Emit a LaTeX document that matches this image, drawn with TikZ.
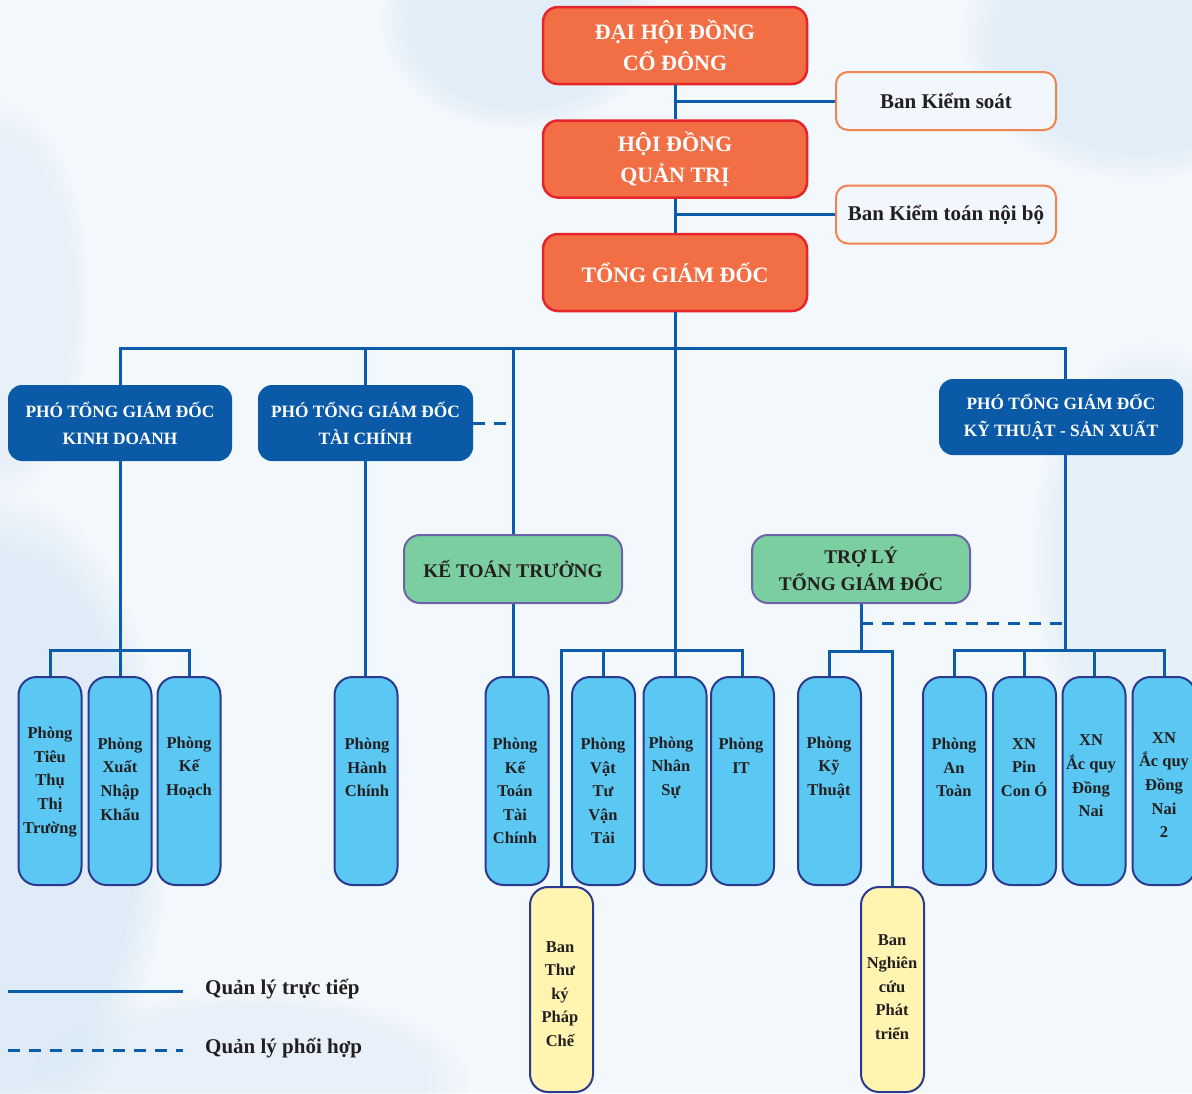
\documentclass[tikz,border=0pt]{standalone}
\usepackage{fontspec}
\setmainfont{Liberation Serif}
\usetikzlibrary{calc,fadings}
\definecolor{bgBase}{HTML}{F3F8FC}
\definecolor{bgBlob}{HTML}{CFE3F3}
\definecolor{orangeF}{HTML}{F26E45}
\definecolor{redB}{HTML}{E5252A}
\definecolor{sideB}{HTML}{F0834F}
\definecolor{sideF}{HTML}{F1F7FC}
\definecolor{vpblue}{HTML}{0B5AA7}
\definecolor{lineblue}{HTML}{0B5CAB}
\definecolor{greenF}{HTML}{7BCE9F}
\definecolor{greenB}{HTML}{6C64AA}
\definecolor{deptF}{HTML}{5AC8F2}
\definecolor{deptB}{HTML}{2B3A8F}
\definecolor{yellowF}{HTML}{FFF5B0}
\definecolor{txtdark}{HTML}{231F20}
\begin{document}
\begin{tikzpicture}[x=1pt,y=-1pt,
  topbox/.style={rounded corners=15pt, fill=orangeF, draw=redB, line width=2.5pt, text=white,
    font=\bfseries\fontsize{22}{31}\selectfont, minimum width=264pt, minimum height=77pt, align=center, inner sep=0pt},
  sidebox/.style={rounded corners=12pt, fill=sideF, draw=sideB, line width=2pt, text=txtdark,
    font=\bfseries\fontsize{21}{26}\selectfont, minimum width=220pt, minimum height=58pt, align=center, inner sep=0pt},
  vpbox/.style={rounded corners=14pt, fill=vpblue, draw=none, text=white,
    font=\bfseries\fontsize{17.3}{27}\selectfont, minimum height=76pt, align=center, inner sep=0pt},
  greenbox/.style={rounded corners=16pt, fill=greenF, draw=greenB, line width=2pt, text=txtdark,
    font=\bfseries\fontsize{19.3}{27}\selectfont, minimum width=218pt, minimum height=68pt, align=center, inner sep=0pt},
  deptbox/.style={rounded corners=18pt, fill=deptF, draw=deptB, line width=2pt, minimum width=63pt, minimum height=208pt, inner sep=0pt},
  ybox/.style={rounded corners=18pt, fill=yellowF, draw=deptB, line width=2pt, minimum width=63pt, minimum height=205pt, inner sep=0pt},
  dtxt/.style={text=txtdark, font=\bfseries\fontsize{16.5}{23.6}\selectfont, align=center, inner sep=0pt},
  conn/.style={draw=lineblue, line width=3pt},
  dconn/.style={draw=lineblue, line width=3pt, dash pattern=on 12pt off 9pt},
  legtxt/.style={text=txtdark, font=\bfseries\fontsize{21}{26}\selectfont, inner sep=0pt, anchor=west},
  blob/.style={fill=bgBlob, path fading=circle with fuzzy edge 20 percent}
]
\useasboundingbox (0,0) rectangle (1192,1093);
\fill[bgBase] (0,0) rectangle (1192,1093);
\begin{scope}
\clip (0,0) rectangle (1192,1093);
\fill[blob, fill opacity=0.55] (0,820) ellipse [x radius=170pt, y radius=330pt];
\fill[blob, fill opacity=0.45] (520,20) ellipse [x radius=140pt, y radius=110pt];
\fill[blob, fill opacity=0.45] (1140,40) ellipse [x radius=180pt, y radius=140pt];
\fill[blob, fill opacity=0.35] (1150,560) ellipse [x radius=120pt, y radius=220pt];
\fill[blob, fill opacity=0.3] (250,1080) ellipse [x radius=220pt, y radius=90pt];
\fill[blob, fill opacity=0.3] (0,300) ellipse [x radius=90pt, y radius=200pt];
\end{scope}

% top chain
\node[topbox] (dhd) at (675,45.5) {ĐẠI HỘI ĐỒNG\\CỔ ĐÔNG};
\node[topbox] (hdqt) at (675,159) {HỘI ĐỒNG\\QUẢN TRỊ};
\node[topbox] (tgd) at (675,272.5) {TỔNG GIÁM ĐỐC};
\node[sidebox] (ks) at (946,101) {Ban Kiểm soát};
\node[sidebox] (bkt) at (946,214.5) {Ban Kiểm toán nội bộ};

% deputies
\node[vpbox, minimum width=224pt] (ptkd) at (120,423) {PHÓ TỔNG GIÁM ĐỐC\\KINH DOANH};
\node[vpbox, minimum width=215pt] (pttc) at (365.5,423) {PHÓ TỔNG GIÁM ĐỐC\\TÀI CHÍNH};
\node[vpbox, minimum width=244pt] (ptkt) at (1061,417) {PHÓ TỔNG GIÁM ĐỐC\\KỸ THUẬT - SẢN XUẤT};
\node[greenbox] (ktt) at (513,569) {KẾ TOÁN TRƯỞNG};
\node[greenbox] (trly) at (861,569) {TRỢ LÝ\\TỔNG GIÁM ĐỐC};

% departments
\node[deptbox] (tieuthu) at (50,781) {};
\node[deptbox] (xnk) at (120,781) {};
\node[deptbox] (kehoach) at (189,781) {};
\node[deptbox] (hanhchinh) at (366,781) {};
\node[deptbox] (ketoan) at (517,781) {};
\node[deptbox] (vattu) at (603.5,781) {};
\node[deptbox] (nhansu) at (675,781) {};
\node[deptbox] (it) at (742.5,781) {};
\node[deptbox] (kythuat) at (829.5,781) {};
\node[deptbox] (antoan) at (954.5,781) {};
\node[deptbox] (pin) at (1024.5,781) {};
\node[deptbox] (dn) at (1094,781) {};
\node[deptbox] (dnhai) at (1164,781) {};
\node[ybox] (bantk) at (561.5,989.5) {};
\node[ybox] (bannc) at (892.5,989.5) {};

\node[dtxt] (tieuthuT) at (50,782) {Phòng\\Tiêu\\Thụ\\Thị\\Trường};
\node[dtxt] (xnkT) at (120,779) {Phòng\\Xuất\\Nhập\\Khẩu};
\node[dtxt] (kehoachT) at (189,767.5) {Phòng\\Kế\\Hoạch};
\node[dtxt] (hanhchinhT) at (367,767.5) {Phòng\\Hành\\Chính};
\node[dtxt] (ketoanT) at (515,791) {Phòng\\Kế\\Toán\\Tài\\Chính};
\node[dtxt] (vattuT) at (603,791) {Phòng\\Vật\\Tư\\Vận\\Tải};
\node[dtxt] (nhansuT) at (671,767.5) {Phòng\\Nhân\\Sự};
\node[dtxt] (itT) at (741,756) {Phòng\\IT};
\node[dtxt] (kythuatT) at (829,767.5) {Phòng\\Kỹ\\Thuật};
\node[dtxt] (antoanT) at (954,767.5) {Phòng\\An\\Toàn};
\node[dtxt] (pinT) at (1024,767.5) {XN\\Pin\\Con Ó};
\node[dtxt] (dnT) at (1091,776) {XN\\Ắc quy\\Đồng\\Nai};
\node[dtxt] (dnhaiT) at (1164,785) {XN\\Ắc quy\\Đồng\\Nai\\2};
\node[dtxt] (bantkT) at (560,994) {Ban\\Thư\\ký\\Pháp\\Chế};
\node[dtxt] (banncT) at (892,987) {Ban\\Nghiên\\cứu\\Phát\\triển};

% connectors: top chain
\draw[conn] (dhd.south) -- (hdqt.north);
\draw[conn] (hdqt.south) -- (tgd.north);
\draw[conn] (ks.west) -- (ks.west -| dhd.south);
\draw[conn] (bkt.west) -- (bkt.west -| tgd.north);
\coordinate (bus) at (675,348);
\draw[conn] (tgd.south) -- (nhansu.north);
\draw[conn] (ptkd.north) |- (bus) -| ($(ptkt.north)+(4,0)$);
\draw[conn] (pttc.north) -- (pttc.north |- bus);
\draw[conn] (ktt.north) -- (ktt.north |- bus);
\draw[dconn] (pttc.east) -- (pttc.east -| ktt.north);

% kinh doanh group
\draw[conn] (ptkd.south) -- (xnk.north);
\draw[conn] (tieuthu.north) -- ++(0,-26) -| (kehoach.north);
% tai chinh
\draw[conn] (pttc.south) -- (pttc.south |- hanhchinh.north);
\draw[conn] (ktt.south) -- (ktt.south |- ketoan.north);
% TGD direct group
\draw[conn] (bantk.north) -- ++(0,-236) -| (it.north);
\draw[conn] (vattu.north) -- ++(0,-26);
% tro ly group
\draw[conn] (trly.south) -- ++(0,49);
\draw[conn] (kythuat.north) -- ++(0,-25) -| (bannc.north);
\coordinate (kj) at ($(ptkt.south)+(4,0)$);
\coordinate (dj) at ($(trly.south)+(0,19)$);
\draw[dconn] (dj) -- (dj -| kj);
% ky thuat group
\draw[conn] (kj) -- ++(0,196);
\draw[conn] (antoan.north) -- ++(0,-26) -| (dnhai.north);
\draw[conn] (pin.north) -- ++(0,-26);
\draw[conn] (dn.north) -- ++(0,-26);

% legend
\coordinate (la) at (8,991);
\coordinate (lb) at (183,991);
\coordinate (lc) at (8,1050);
\coordinate (ld) at (183,1050);
\draw[conn] (la) -- (lb);
\draw[dconn] (lc) -- (ld);
\node[legtxt] (lt1) at (205,989) {Quản lý trực tiếp};
\node[legtxt] (lt2) at (205,1048) {Quản lý phối hợp};
\end{tikzpicture}
\end{document}
